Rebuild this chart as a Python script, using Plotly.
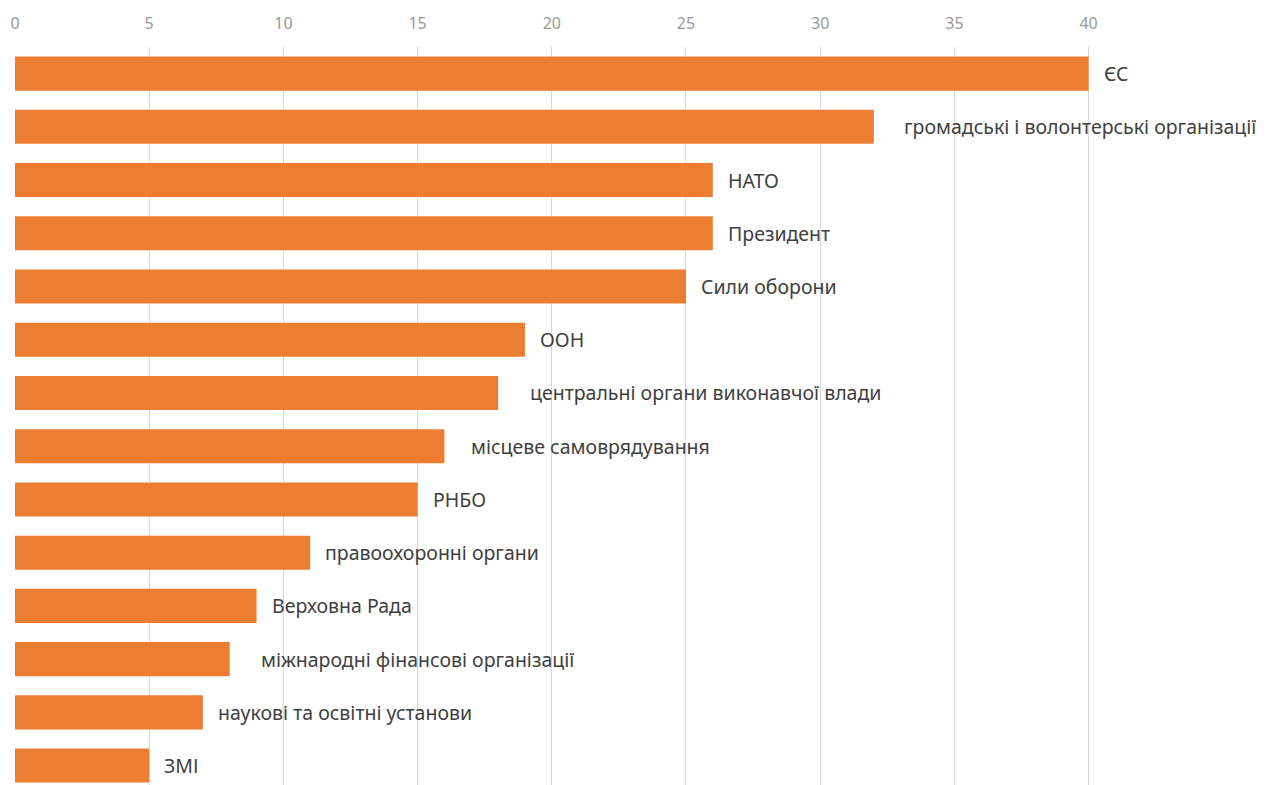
import plotly.graph_objects as go

categories = [
    "ЄС",
    "громадські і волонтерські організації",
    "НАТО",
    "Президент",
    "Сили оборони",
    "ООН",
    "центральні органи виконавчої влади",
    "місцеве самоврядування",
    "РНБО",
    "правоохоронні органи",
    "Верховна Рада",
    "міжнародні фінансові організації",
    "наукові та освітні установи",
    "ЗМІ",
]
values = [40, 32, 26, 26, 25, 19, 18, 16, 15, 11, 9, 8, 7, 5]
tick_values = [0, 5, 10, 15, 20, 25, 30, 35, 40]

# label styling: base gap after bar end, with wider gaps on a few labels (as in the reference)
base_gap = 13
wide_gap = {
    "громадські і волонтерські організації": 28,
    "центральні органи виконавчої влади": 30,
    "місцеве самоврядування": 25,
    "міжнародні фінансові організації": 29,
}

fig = go.Figure()
fig.add_trace(go.Bar(
    x=values,
    y=categories,
    orientation="h",
    marker=dict(color="#ED7D31", line=dict(width=0)),
    hoverinfo="x+y",
))

for c, v in zip(categories, values):
    fig.add_annotation(
        x=v, y=c, text=c, xref="x", yref="y",
        xanchor="left", yanchor="middle", showarrow=False,
        xshift=wide_gap.get(c, base_gap),
        font=dict(family="Noto Sans", size=19.5, color="#404040"),
    )

fig.update_layout(
    width=1266, height=785,
    margin=dict(l=7, r=172, t=39, b=8, autoexpand=False),
    plot_bgcolor="white", paper_bgcolor="white",
    bargap=0.36,
    showlegend=False,
    xaxis=dict(
        side="top", range=[0, 40.5],
        tickvals=tick_values,
        showgrid=True, gridcolor="#d9d9d9", gridwidth=1,
        zeroline=False, showline=False, ticks="",
        tickfont=dict(family="Noto Sans", size=16, color="#999999"),
        ticklabelstandoff=14,
        automargin=False,
    ),
    yaxis=dict(
        categoryorder="array", categoryarray=categories,
        range=[13.365, -0.5],
        showticklabels=False, showgrid=False, zeroline=False, ticks="",
        automargin=False,
    ),
)

fig.write_html("out.html")
